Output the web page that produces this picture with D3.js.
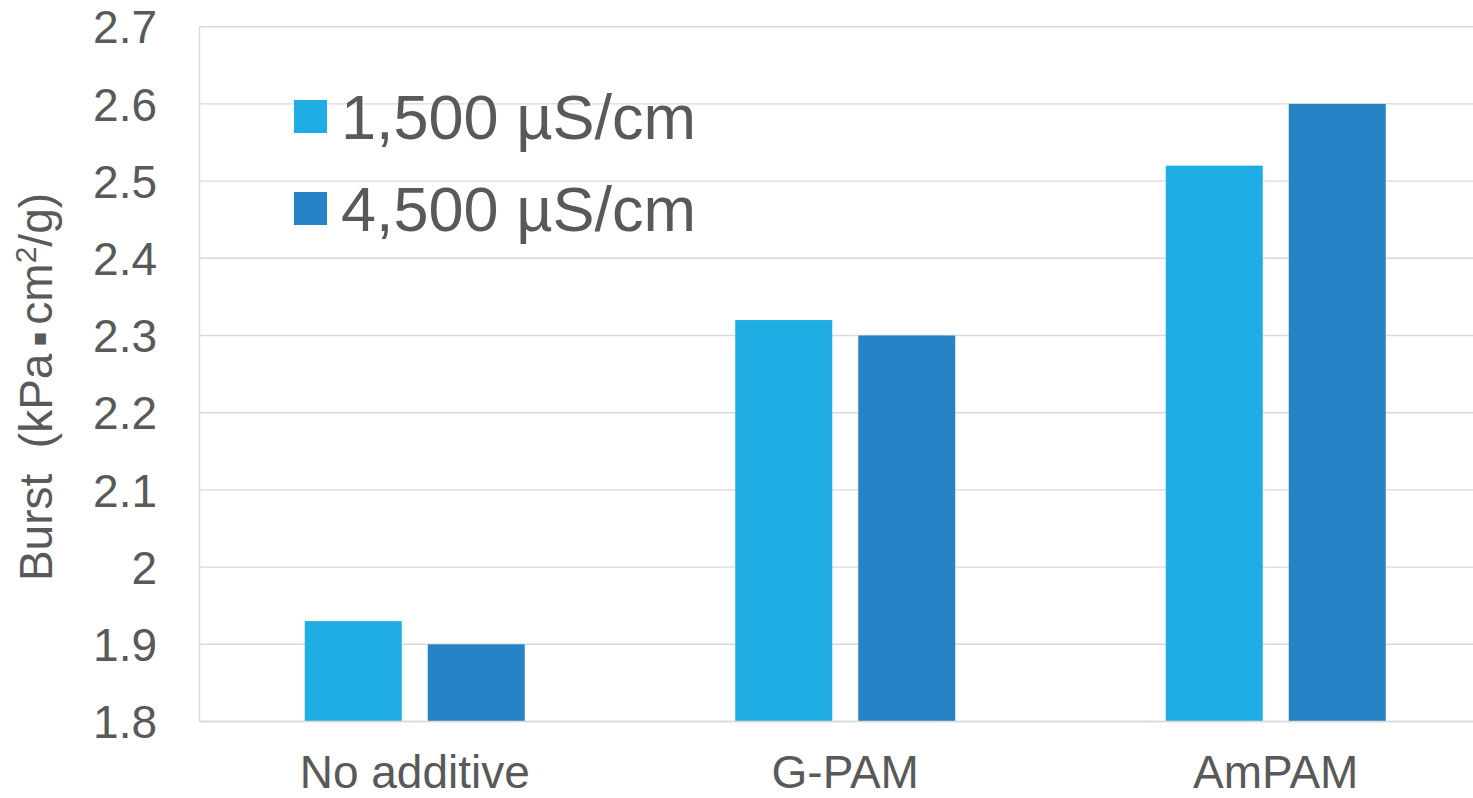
<!DOCTYPE html>
<html>
<head>
<meta charset="utf-8">
<script src="https://cdn.jsdelivr.net/npm/d3@7/dist/d3.min.js"></script>
<style>
  html, body { margin: 0; padding: 0; background: #fff; }
  svg { display: block; }
  text { font-family: "Liberation Sans", Arial, sans-serif; fill: #595959; }
</style>
</head>
<body>
<svg id="chart" width="1473" height="798"></svg>
<script>
// Burst index by additive and water conductivity
const categories = ["No additive", "G-PAM", "AmPAM"];
const seriesNames = ["1,500 \u00b5S/cm", "4,500 \u00b5S/cm"];
const series1500 = [1.93, 2.32, 2.52];
const series4500 = [1.90, 2.30, 2.60];
const yTicks = [1.8, 1.9, 2.0, 2.1, 2.2, 2.3, 2.4, 2.5, 2.6, 2.7];
const colors = ["#1FADE3", "#2683C6"];

const svg = d3.select("#chart");
const margin = { left: 199.5, top: 26.7, right: 1491, bottom: 721.5 };

const x = d3.scaleBand().domain(categories).range([margin.left, margin.right]);
const y = d3.scaleLinear().domain([1.8, 2.7]).range([margin.bottom, margin.top]);

// horizontal gridlines
svg.append("g")
  .selectAll("line")
  .data(yTicks)
  .join("line")
  .attr("x1", margin.left).attr("x2", margin.right)
  .attr("y1", d => y(d)).attr("y2", d => y(d))
  .attr("stroke", "#d9d9d9").attr("stroke-width", 1.4);

// left axis line
svg.append("line")
  .attr("x1", margin.left).attr("x2", margin.left)
  .attr("y1", y(2.7)).attr("y2", y(1.8))
  .attr("stroke", "#d9d9d9").attr("stroke-width", 1.4);

// y tick labels
const yAxis = d3.axisLeft(y).tickValues(yTicks).tickSize(0).tickPadding(0)
  .tickFormat(d => d3.format("~g")(d));
const gy = svg.append("g").attr("transform", `translate(157,0)`).call(yAxis);
gy.select(".domain").remove();
gy.selectAll("text")
  .attr("x", 0).attr("dy", "0.35em")
  .style("font-size", "46px")
  .attr("fill", "#595959");

// bars
const bw = x.bandwidth();
const barW = bw * 0.2253;
const gap = bw * 0.0604;
const sub = d3.scaleOrdinal().domain([0, 1]).range([
  bw / 2 - gap / 2 - barW,
  bw / 2 + gap / 2
]);
const data = [series1500, series4500];
data.forEach((vals, si) => {
  svg.append("g")
    .selectAll("rect")
    .data(vals)
    .join("rect")
    .attr("x", (d, i) => x(categories[i]) + sub(si))
    .attr("width", barW)
    .attr("y", d => y(d))
    .attr("height", d => y(1.8) - y(d))
    .attr("fill", colors[si]);
});

// bottom axis line over bars
svg.append("line")
  .attr("x1", margin.left).attr("x2", margin.right)
  .attr("y1", y(1.8)).attr("y2", y(1.8))
  .attr("stroke", "#d9d9d9").attr("stroke-width", 1.6);

// x category labels
const xAxis = d3.axisBottom(x).tickSize(0).tickPadding(0);
const gx = svg.append("g").attr("transform", `translate(0,788)`).call(xAxis);
gx.select(".domain").remove();
gx.selectAll("text")
  .attr("y", 0).attr("dy", 0)
  .style("font-size", "46px")
  .attr("fill", "#595959");

// y axis title
const title = svg.append("text")
  .attr("transform", "translate(52,387) rotate(-90)")
  .attr("text-anchor", "middle")
  .style("font-size", "46px");
title.append("tspan").text("Burst\u00a0\u00a0(kPa");
title.append("tspan").text("\u25aa")
  .style("font-family", "DejaVu Sans").style("font-size", "22px")
  .attr("dx", 7).attr("dy", -6);
title.append("tspan").text("cm").attr("dx", 7).attr("dy", 6);
title.append("tspan").text("2").style("font-size", "30px").attr("dy", -16);
title.append("tspan").text("/g)").attr("dy", 16);

// legend
const legend = svg.append("g");
const legendY = [100, 192];
seriesNames.forEach((name, i) => {
  legend.append("rect")
    .attr("x", 294).attr("y", legendY[i])
    .attr("width", 33).attr("height", 33)
    .attr("fill", colors[i]);
  legend.append("text")
    .attr("x", 341).attr("y", legendY[i] + 39)
    .style("font-size", "63px")
    .text(name);
});
</script>
</body>
</html>
